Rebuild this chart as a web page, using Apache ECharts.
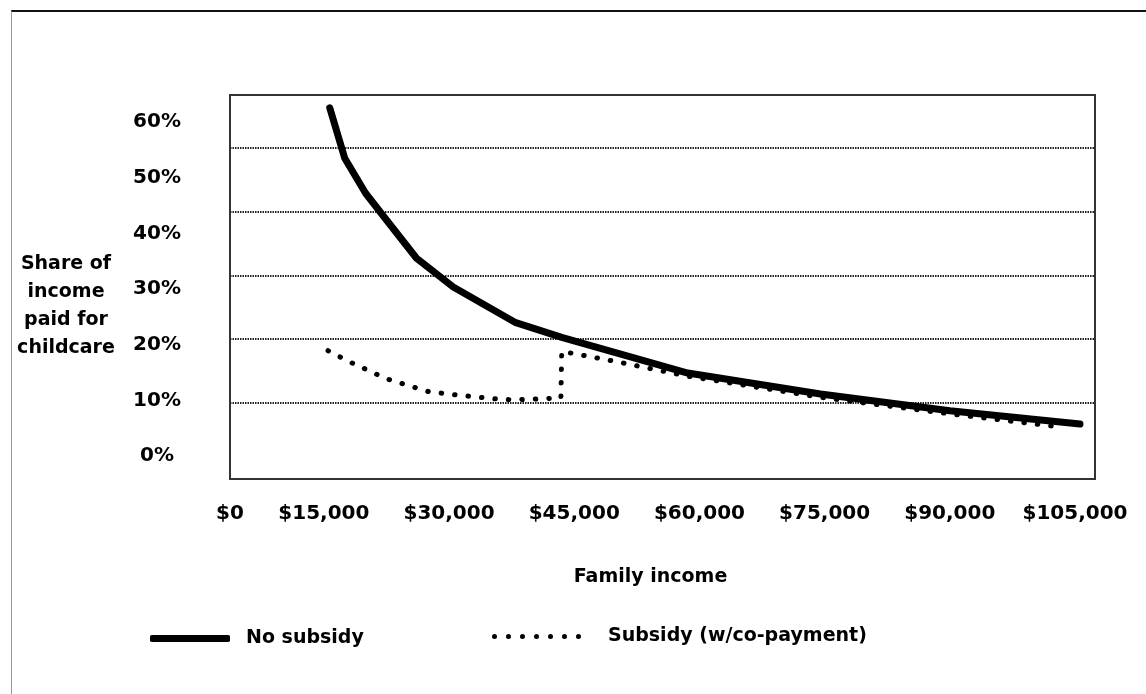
<!DOCTYPE html>
<html>
<head>
<meta charset="utf-8">
<title>Share of income paid for childcare</title>
<script src="https://cdn.jsdelivr.net/npm/echarts@6/dist/echarts.min.js"></script>
<style>
  html, body { margin: 0; padding: 0; background: #fff; }
  #chart { position: absolute; left: 0; top: 0; width: 1146px; height: 694px; }
  #frame { position: absolute; left: 11px; top: 10px; right: 0; bottom: 0;
           border-top: 2px solid #111; border-left: 1px solid #999; pointer-events: none; }
</style>
</head>
<body>
<div id="chart"></div>
<div id="frame"></div>
<script>
// Family income (dollars) and share of income spent on childcare (%)
const noSubsidyIncome = [15700, 17500, 20000, 22500, 26100, 30500, 38000, 43500, 58600, 74500, 90000, 105600];
const noSubsidyShare  = [56.3, 48.4, 42.9, 38.7, 32.7, 28.2, 22.6, 20.3, 14.7, 11.4, 8.8, 6.7];

const subsidyIncome = [15500, 18000, 20000, 22500, 25000, 27500, 30000, 35000, 37500, 40000, 43400, 43500, 50000, 58600, 74500, 90000, 103500];
const subsidyShare  = [18.2, 16.5, 15.3, 13.8, 12.8, 11.8, 11.4, 10.7, 10.5, 10.6, 10.8, 18.1, 16.5, 14.2, 10.9, 8.3, 6.2];

const seriesNames = ['No subsidy', 'Subsidy (w/co-payment)'];

// Axis extents
const X_MIN = 3750, X_MAX = 107400;
const Y_MIN = -1.92, Y_MAX = 58.31;
const LABEL_Y_MIN = -4.13, LABEL_Y_MAX = 64.85;

// Tick values and their labels
const xTickValues = [X_MIN, 15000, 30000, 45000, 60000, 75000, 90000, 105000];
const xTickLabels = ['$0', '$15,000', '$30,000', '$45,000', '$60,000', '$75,000', '$90,000', '$105,000'];
const yGridValues = [10, 20, 30, 40, 50];
const yTickValues = [0, 10, 20, 30, 40, 50, 60];
const yTickLabels = ['0%', '10%', '20%', '30%', '40%', '50%', '60%'];

const FONT = 'DejaVu Sans';

function pairs(xs, ys) { return xs.map((x, i) => [x, ys[i]]); }
function lookup(values, labels, v) {
  for (let i = 0; i < values.length; i++) if (Math.abs(values[i] - v) < 1e-6) return labels[i];
  return '';
}

// seven round dots for the legend swatch of the dotted series
let dotPath = 'path://';
for (let i = 0; i < 7; i++) {
  const x = i * 14;
  dotPath += 'M' + x + ',2.5a2.5,2.5 0 1,0 5,0a2.5,2.5 0 1,0 -5,0';
}

const chart = echarts.init(document.getElementById('chart'), null, { renderer: 'canvas' });

chart.setOption({
  backgroundColor: '#fff',
  animation: false,
  title: {
    text: 'Share of\nincome\npaid for\nchildcare',
    left: 66, top: 250, textAlign: 'center', padding: 0,
    textStyle: { fontFamily: FONT, fontSize: 19, fontWeight: 'bold', color: '#000', lineHeight: 28, align: 'center' }
  },
  grid: {
    left: 230, right: 51, top: 95, bottom: 215,
    show: true, borderColor: '#333', borderWidth: 2, backgroundColor: '#fff',
    containLabel: false, outerBoundsMode: 'none'
  },
  legend: [
    {
      data: [seriesNames[0]], left: 150, top: 629, padding: 0, selectedMode: false,
      icon: 'roundRect', itemWidth: 80, itemHeight: 7,
      itemStyle: { color: '#000', borderWidth: 0 },
      textStyle: { fontFamily: FONT, fontSize: 19, fontWeight: 'bold', color: '#000', padding: [0, 0, 0, 11] }
    },
    {
      data: [seriesNames[1]], left: 492, top: 627, padding: 0, selectedMode: false,
      icon: dotPath, itemWidth: 89, itemHeight: 5,
      itemStyle: { color: '#000', borderWidth: 0 },
      textStyle: { fontFamily: FONT, fontSize: 19, fontWeight: 'bold', color: '#000', padding: [0, 0, 0, 22] }
    }
  ],
  xAxis: {
    type: 'value', min: X_MIN, max: X_MAX, position: 'bottom',
    name: 'Family income', nameLocation: 'middle', nameGap: 89,
    nameTextStyle: { fontFamily: FONT, fontSize: 19, fontWeight: 'bold', color: '#000', padding: [0, 24, 0, 0] },
    axisLine: { show: false }, axisTick: { show: false }, splitLine: { show: false },
    axisLabel: {
      customValues: xTickValues, margin: 25,
      fontFamily: FONT, fontSize: 20, fontWeight: 'bold', color: '#000',
      formatter: v => lookup(xTickValues, xTickLabels, v)
    }
  },
  yAxis: [
    {
      // value scale used by the curves and gridlines
      type: 'value', min: Y_MIN, max: Y_MAX, position: 'left',
      axisLine: { show: false }, axisLabel: { show: false },
      axisTick: { show: false, customValues: yGridValues },
      splitLine: { show: true, lineStyle: { color: '#222', width: 2, type: [1.5, 1] } }
    },
    {
      // percentage tick labels
      type: 'value', min: LABEL_Y_MIN, max: LABEL_Y_MAX, position: 'left',
      axisLine: { show: false }, axisTick: { show: false }, splitLine: { show: false },
      axisLabel: {
        customValues: yTickValues, margin: 73, align: 'center',
        fontFamily: FONT, fontSize: 20, fontWeight: 'bold', color: '#000',
        formatter: v => lookup(yTickValues, yTickLabels, v)
      }
    }
  ],
  series: [
    {
      name: seriesNames[0], type: 'line', yAxisIndex: 0,
      data: pairs(noSubsidyIncome, noSubsidyShare),
      symbol: 'none', silent: true,
      itemStyle: { color: '#000' },
      lineStyle: { color: '#000', width: 7, cap: 'round', join: 'round' }
    },
    {
      name: seriesNames[1], type: 'line', yAxisIndex: 0,
      data: pairs(subsidyIncome, subsidyShare),
      symbol: 'none', silent: true,
      itemStyle: { color: '#000' },
      lineStyle: { color: '#000', width: 5, type: [0.5, 13], cap: 'round', join: 'round' }
    }
  ]
});
</script>
</body>
</html>
